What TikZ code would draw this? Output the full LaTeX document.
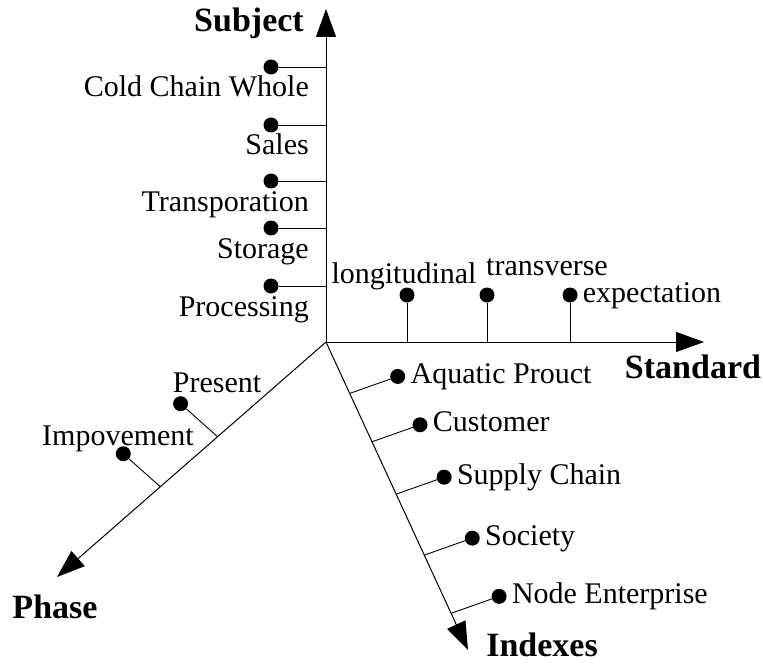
\documentclass[tikz,border=0pt]{standalone}
\usepackage{fontspec}
\setmainfont{Liberation Serif}
\usetikzlibrary{arrows.meta,calc}

\tikzset{
  axis/.style={line width=1pt, -{Triangle[length=28pt,width=20pt]}},
  tick/.style={line width=0.9pt},
  dot/.style={circle, fill=black, inner sep=0pt, minimum size=15pt},
  lbl/.style={font=\fontsize{30}{36}\selectfont, inner sep=1pt, text height=21pt, text depth=7pt},
  axlbl/.style={font=\fontsize{34}{40}\selectfont\bfseries, inner sep=1pt},
}

\begin{document}
\begin{tikzpicture}[x=1pt,y=-1pt]
\useasboundingbox (0,0) rectangle (763,666);
% the four axes
\coordinate (O) at (326,342);
\coordinate (subj) at (326,9);
\coordinate (stan) at (704,342);
\coordinate (phas) at (57,577);
\coordinate (idx) at (468,650);
\draw[axis] (O) -- (subj);
\draw[axis] (O) -- (stan);
\draw[axis] (O) -- (phas);
\draw[axis] (O) -- (idx);
\node[axlbl] (subjlbl) at (249,23) {Subject};
\node[axlbl] (stanlbl) at (693,367) {Standard};
\node[axlbl] (phaslbl) at (55,607) {Phase};
\node[axlbl] (idxlbl) at (542,645) {Indexes};

% subject
\foreach \y/\name/\txt in {67/cold/Cold Chain Whole, 125/sales/Sales, 181/trans/Transporation, 228/stor/Storage, 286/proc/Processing}{
  \node[dot] (\name) at (271,\y) {};
  \coordinate (\name-t) at (326,\y);
  \draw[tick] (\name) -- (\name-t);
  \node[lbl, anchor=east] (\name-l) at (310,\y+23) {\txt};
}

% standard
\foreach \x/\name in {407/lon, 487/tra, 570/exp}{
  \node[dot] (\name) at (\x,295) {};
  \coordinate (\name-t) at (\x,342);
  \draw[tick] (\name) -- (\name-t);
}
\node[lbl] (lon-l) at (404,276) {longitudinal};
\node[lbl] (tra-l) at (547,268) {transverse};
\node[lbl, anchor=west] (exp-l) at ([xshift=4pt]exp.east) {expectation};

% phase
\foreach \p/\name in {0.403/pre, 0.616/imp}{
  \coordinate (\name-t) at ($(O)!\p!(phas)$);
  \node[dot] (\name) at ($(\name-t)+(-37,-33)$) {};
  \draw[tick] (\name) -- (\name-t);
}
\node[lbl] (pre-l) at (217,385) {Present};
\node[lbl] (imp-l) at (118,438) {Impovement};

% indexes
\foreach \p/\name/\txt in {0.167/aqu/Aquatic Prouct, 0.324/cus/Customer, 0.494/sup/Supply Chain, 0.692/soc/Society, 0.881/nod/Node Enterprise}{
  \coordinate (\name-t) at ($(O)!\p!(idx)$);
  \node[dot] (\name) at ($(\name-t)+(48,-17)$) {};
  \draw[tick] (\name) -- (\name-t);
  \node[lbl, anchor=west] (\name-l) at ([xshift=4pt]\name.east) {\txt};
}
\end{tikzpicture}
\end{document}
